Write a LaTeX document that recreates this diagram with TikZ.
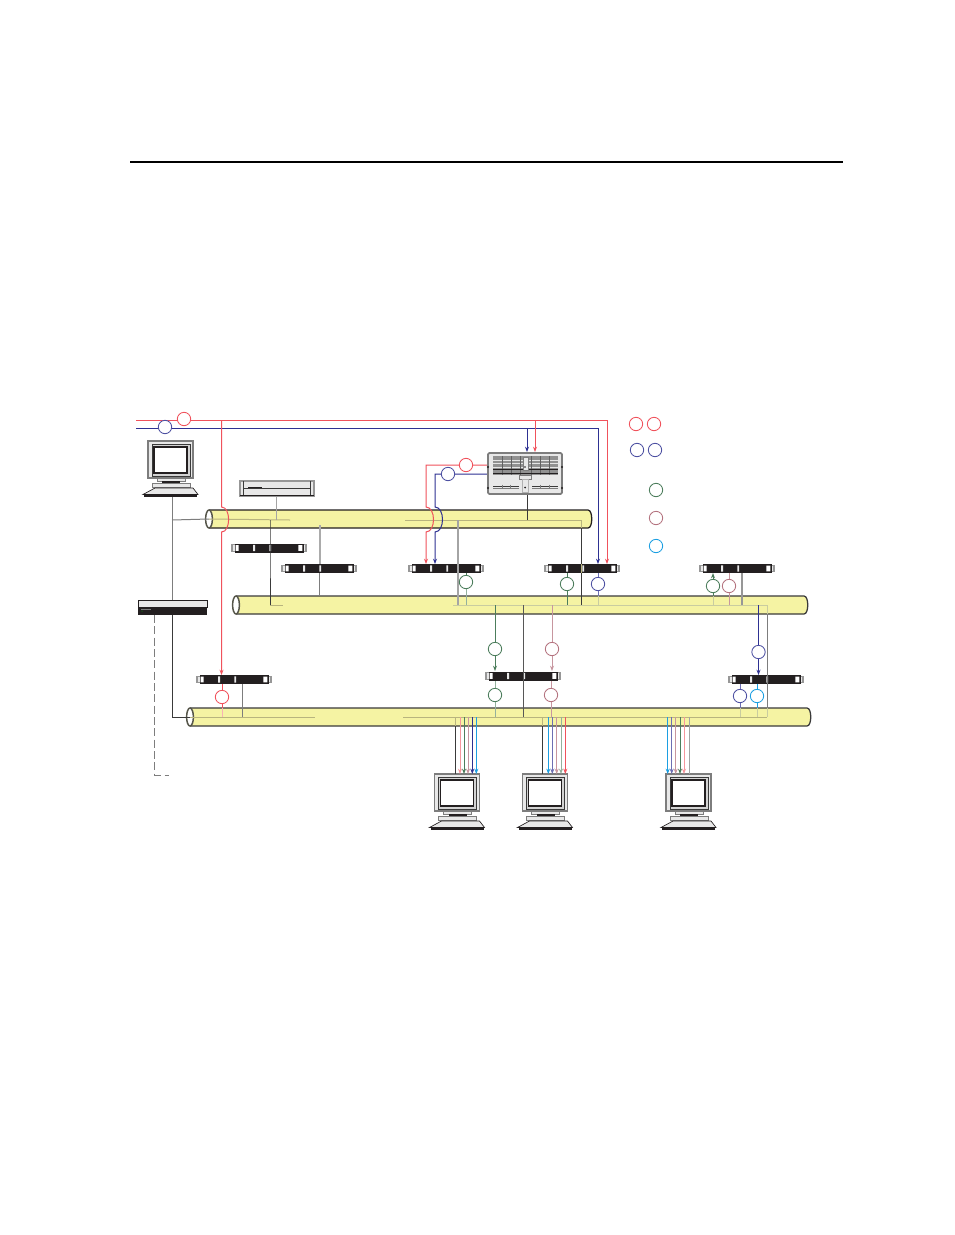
\documentclass[tikz,border=0pt]{standalone}
\usetikzlibrary{arrows.meta,calc}
\definecolor{cRed}{HTML}{F0525C}
\definecolor{cBlue}{HTML}{2E3192}
\definecolor{cGreen}{HTML}{4C7D5C}
\definecolor{cMauve}{HTML}{B4737F}
\definecolor{cCyan}{HTML}{1C9FE2}
\definecolor{cGray}{HTML}{7D7D7D}
\definecolor{cDark}{HTML}{3A3A3A}
\definecolor{cYellow}{HTML}{F5F3A3}
\definecolor{cInner}{HTML}{B8B47E}
\definecolor{cPale}{HTML}{C9CCA0}
\definecolor{cBlack}{HTML}{231F20}
\definecolor{cPanel}{HTML}{E8E8E8}
\tikzset{
  x=0.75pt,y=-0.75pt,
  wire/.style={line width=0.75pt},
  tip/.style={-{Stealth[length=4pt,width=3pt]}},
  redw/.style={wire,cRed}, bluew/.style={wire,cBlue}, greenw/.style={wire,cGreen},
  mauvew/.style={wire,cMauve}, cyanw/.style={wire,cCyan}, grayw/.style={wire,cGray},
  darkw/.style={wire,cDark}, innerw/.style={wire,cInner}, palew/.style={wire,cPale},
  softred/.style={wire,draw=cRed!60},
  softgreen/.style={wire,draw=cGreen!60},
  softmauve/.style={wire,draw=cMauve!75},
  softblue/.style={wire,draw=cBlue!70},
  softgray/.style={wire,draw=cGray!70},
  ring/.style={circle,draw,fill=white,line width=0.65pt,minimum size=10pt,inner sep=0pt},
  redc/.style={ring,draw=cRed}, bluec/.style={ring,draw=cBlue!85}, greenc/.style={ring,draw=cGreen},
  mauvec/.style={ring,draw=cMauve}, cyanc/.style={ring,draw=cCyan},
  swbody/.style={rectangle,fill=cBlack,minimum width=51.75pt,minimum height=6.75pt,inner sep=0pt,outer sep=0pt},
  anchorbox/.style={rectangle,minimum width=#1,inner sep=0pt,outer sep=0pt},
}
\newcommand{\swt}[3]{%
  \begin{scope}[shift={(#2,#3)}]
    \draw[cGray!80,fill=cPanel,line width=0.9pt] (-37,-3.2) rectangle (37,3.2);
    \node[swbody] (#1) at (0,0) {};
    \fill[white] (-33.3,-2.8) rectangle (-30.3,2.8) (29.3,-2.8) rectangle (33.3,2.8);
    \fill[cPanel] (-16,-3.2) rectangle (-14,3.2) (0.3,-3.2) rectangle (2.1,3.2);
  \end{scope}}
\newcommand{\tube}[6]{% name x1 x2 ytop ybot outline
  \path[fill=cYellow] (#2,#4) -- (#3-4,#4) .. controls (#3+1,#4) and (#3+1,#5) .. (#3-4,#5) -- (#2,#5) -- cycle;
  \draw[#6,line width=0.95pt] (#2,#4) -- (#3-4,#4) .. controls (#3+1,#4) and (#3+1,#5) .. (#3-4,#5) -- (#2,#5);
  \draw[cDark!85!cYellow,fill=white,line width=1.1pt] ($(#2,#4)!0.5!(#2,#5)$) ellipse [x radius=3.4,y radius=9];
  \coordinate (#1) at ($(#2,#4)!0.5!(#2,#5)$);}
\newcommand{\monitor}[3]{% name x y of case top-left
  \begin{scope}[shift={(#2,#3)}]
    \draw[cGray,fill=cPanel,line width=0.8pt] (0,0) rectangle (45,37);
    \draw[cDark,fill=cPanel!80!gray,line width=0.4pt] (4,3) rectangle (42,35);
    \draw[cBlack,fill=white,line width=0.9pt] (6,6) rectangle (39,32);
    \draw[cGray,fill=cPanel,line width=0.5pt] (9,37) rectangle (37,40);
    \fill[cBlack] (14,40) rectangle (32,42);
    \draw[cGray,fill=cPanel,line width=0.5pt] (4,42) rectangle (42,46);
    \draw[cBlack,fill=cPanel,line width=0.5pt] (7,47) -- (45,47) -- (50,53.5) -- (-5,53.5) -- cycle;
    \fill[cBlack] (-4,53) rectangle (49,56);
    \node[anchorbox=33.75pt,minimum height=42pt] (#1) at (22.5,28) {};
    \coordinate (#1top) at (22.5,0);
  \end{scope}}
\begin{document}
\begin{tikzpicture}
\fill[white] (0,0) rectangle (954,1235);
\useasboundingbox (0,0) rectangle (954,1235);
% header rule
\coordinate (ruleL) at (130,161.7);
\coordinate (ruleR) at (843,161.7);
\draw[black,line width=1.2pt] (ruleL) -- (ruleR);
% tubes
\tube{Ta}{209}{592}{510}{528}{cBlack}
\tube{Tb}{236}{808}{596}{614}{cDark}
\tube{Tc}{190}{811}{708}{726}{cDark}
% named points
\coordinate (redIn) at (136,420.2);
\coordinate (blueIn) at (136,428);
\coordinate (redT) at (607,420.2);
\coordinate (blueT) at (598,428);
\coordinate (redA) at (221.5,420.2);
\coordinate (redB) at (426,465);
\coordinate (blueB) at (435,474);
\coordinate (aL) at (172,520);
\coordinate (aM) at (290,520);
\coordinate (aN) at (405,520);
\coordinate (aR) at (581,520);
\coordinate (bA) at (270,520);
\coordinate (bB) at (283,605);
\coordinate (bL) at (453,605);
\coordinate (bR) at (767,605);
\coordinate (cL) at (172,717);
\coordinate (cM) at (315,717);
\coordinate (cN) at (403,717);
\coordinate (cR) at (767,717);
\coordinate (dashA) at (154.5,775);
\coordinate (dashB) at (169,775);
% devices
\swt{Sa}{269}{548}
\swt{Sb}{319}{568.5}
\swt{Sc}{446}{568.5}
\swt{Sd}{582}{568.5}
\swt{Se}{737}{568.5}
\swt{Sf}{234}{679.5}
\swt{Sg}{523}{676}
\swt{Sh}{766}{679.5}
% inner pipe lines
\draw[grayw] (aL) -- (Ta);
\draw[innerw] (Ta) -- (aM);
\draw[innerw] (aN) -- (aR);
\draw[innerw] (bA |- bB) -- (bB);
\draw[palew] (bL) -- (bR);
\draw[innerw] (Tc) -- (cM);
\draw[innerw] (cN) -- (cR);
\draw[innerw] (aR) -- (aR |- bL);
\draw[palew] (bR) -- (cR);
% grey and black links
\draw[grayw] (172,496) -- (172,600);
\draw[darkw] (172,615) -- (cL) -- (Tc);
\draw[grayw,dashed,dash pattern=on 6pt off 2.5pt] (154.5,615) -- (dashA) -- (dashB);
\draw[cGray!70,line width=.8pt] (276.5,496) -- (276.5,520);
\draw[darkw] (bA) -- (bA |- Sa.south) -- (bA |- bB);
\draw[cGray!65,line width=0.9pt] (320,525) -- (320,564);
\draw[grayw] (319,573) -- (319,596);
\draw[darkw] (527,495) -- (527,520);
\draw[cGray!70,line width=0.9pt] (458,520) -- (458,605);
\draw[cDark,line width=0.7pt] (581,528) -- (581,564);
\draw[cDark,line width=0.7pt] (581,573) -- (581,605);
\draw[cGray!80,line width=.8pt] (742,573) -- (742,605);
\draw[wire,cGray!70!black] (523.5,605) -- (523.5,717);
\draw[grayw] (242,684) -- (242,717);
\draw[grayw] (767,614) -- (767,708);
% top feeds
\draw[redw,tip] (redIn) -- (redT) -- (redT |- Sd.north);
\draw[bluew,tip] (blueIn) -- (blueT) -- (blueT |- Sd.north);
\draw[redw,tip] (535,420.2) -- (535,452);
\draw[bluew,tip] (527,428) -- (527,452);
\draw[redw,tip] (redA) -- (221.5,507) .. controls (231,507) and (231,532) .. (221.5,532) -- (221.5,675);
\draw[redw,tip] (488,465) -- (redB) -- (426,507) .. controls (436,507) and (436,532) .. (426,532) -- (426,564);
\draw[bluew,tip] (488,474) -- (blueB) -- (435,507) .. controls (445,507) and (445,532) .. (435,532) -- (435,564);
% rings and their links
\node[redc] (r1) at (184,419) {};
\node[bluec] (b1) at (165,427) {};
\node[redc] (r2) at (466,465) {};
\node[bluec] (b2) at (448,474) {};
\draw[greenw] (466,573) -- (466,580);
\draw[softgreen] (466,585) -- (466,605);
\draw[greenw] (567,573) -- (567,605);
\draw[softblue] (598,573) -- (598,596);
\draw[palew] (598,596) -- (598,605);
\draw[greenw,tip] (713,596) -- (713,573);
\draw[palew] (713,596) -- (713,605);
\draw[softmauve] (729,573) -- (729,605);
\draw[greenw,tip] (495,605) -- (495,671);
\draw[softmauve,tip] (552,605) -- (552,671);
\draw[softgreen] (495,681) -- (495,717);
\draw[softmauve] (551,681) -- (551,717);
\draw[bluew,tip] (758.5,605) -- (758.5,675);
\draw[softblue] (740,684) -- (740,708);
\draw[palew] (740,708) -- (740,717);
\draw[cyanw] (757,684) -- (757,708);
\draw[palew] (757,708) -- (757,717);
\draw[redw] (222,684) -- (222,708);
\draw[cRed!45,line width=.75pt] (222,708) -- (222,717);
\node[greenc] (g1) at (466,582) {};
\node[greenc] (g2) at (567,584) {};
\node[bluec] (b3) at (598,584) {};
\node[greenc] (g3) at (713,586) {};
\node[mauvec] (m1) at (729,586) {};
\node[greenc] (g4) at (495,649) {};
\node[mauvec] (m2) at (552,649) {};
\node[greenc] (g5) at (495,695) {};
\node[mauvec] (m3) at (551,695) {};
\node[bluec] (b4) at (758.5,652) {};
\node[bluec] (b5) at (740,696) {};
\node[cyanc] (k1) at (757,696) {};
\node[redc] (r3) at (222,697) {};
% legend
\node[redc] (lr1) at (636,424) {};
\node[redc] (lr2) at (654,424) {};
\node[bluec] (lb1) at (637,450) {};
\node[bluec] (lb2) at (655,450) {};
\node[greenc] (lg) at (656,490) {};
\node[mauvec] (lm) at (656,518) {};
\node[cyanc] (lk) at (656,546) {};
% monitors
\monitor{Ma}{148}{441}
\monitor{Mb}{434.5}{774}
\monitor{Mc}{522.5}{774}
\monitor{Md}{666}{774}
% drops to monitors
\draw[darkw] (455.5,726) -- (455.5 ,774);
\draw[innerw] (455.5,717) -- (455.5,726);
\draw[softred,tip] (460,717) -- (460,774);
\draw[greenw,tip] (464,717) -- (464,774);
\draw[softmauve,tip] (468,717) -- (468,774);
\draw[bluew,tip] (472.3,717) -- (472.3,774);
\draw[cyanw,tip] (476.3,717) -- (476.3,774);
\draw[darkw] (542.5,726) -- (542.5,774);
\draw[innerw] (542.5,717) -- (542.5,726);
\draw[cyanw,tip] (548.3,717) -- (548.3,774);
\draw[softblue,tip] (552.3,717) -- (552.3,774);
\draw[softmauve,tip] (556.7,717) -- (556.7,774);
\draw[softgreen,tip] (561,717) -- (561,774);
\draw[redw,tip] (565.3,717) -- (565.3,774);
\draw[cyanw,tip] (667.7,717) -- (667.7,774);
\draw[softblue,tip] (671.7,717) -- (671.7,774);
\draw[softmauve,tip] (675.7,717) -- (675.7,774);
\draw[greenw,tip] (680,717) -- (680,774);
\draw[softred,tip] (684,717) -- (684,774);
\draw[softgray] (689.3,717) -- (689.3,774);
% rack unit
\draw[cGray!80,fill=cPanel,line width=0.9pt] (240,481) rectangle (314,496);
\draw[cBlack,line width=0.8pt] (240,495.7) -- (314,495.7);
\draw[cDark,line width=0.5pt] (243.5,481) -- (243.5,495) (310,481) -- (310,495) (243.5,488) -- (310,488);
\draw[cBlack,line width=0.8pt] (248,487.5) -- (262,487.5);
\node[anchorbox=55pt,minimum height=11pt] (unitA) at (277,488.5) {};
% access box
\fill[cPanel] (138,600.5) rectangle (207,607);
\draw[cBlack,line width=0.4pt] (138,600.5) rectangle (207,607);
\fill[cBlack] (138,607) rectangle (207,615);
\draw[cGray,line width=0.5pt] (141,609.5) -- (151,609.5);
\fill[green!70!black] (142,611) circle (0.5);
\node[anchorbox=51pt,minimum height=11pt] (unitB) at (172.5,607.5) {};
% chassis
\draw[cGray,fill=cPanel,line width=1.3pt,rounded corners=1pt] (488,453) rectangle (562,494);
\fill[cGray!85] (493,456) rectangle (558,475);
\foreach \yy in {460,463.5,467} \draw[white!80!gray,line width=0.5pt] (493,\yy) -- (558,\yy);
\foreach \xx in {502,511,520,531,540,549} \draw[cDark!80,line width=0.5pt] (\xx,456) -- (\xx,475);
\draw[cBlack,line width=0.7pt] (493,469.5) -- (558,469.5) (493,473) -- (558,473);
\fill[cPanel] (523,457) rectangle (528,470);
\draw[cGray,line width=0.3pt] (523,457) rectangle (528,470);
\fill[cBlack] (525,467) circle (0.8);
\draw[cGray,fill=cPanel,line width=0.6pt] (519,475) rectangle (531,479);
\draw[cGray!60,fill=cPanel,line width=0.3pt] (522,479) rectangle (528,492);
\fill[cBlack] (525,487.5) circle (1);
\draw[cDark,line width=0.55pt] (493,486.5) -- (519,486.5) (532,486.5) -- (558,486.5);
\draw[cGray,line width=0.35pt] (493,488.5) -- (519,488.5) (532,488.5) -- (558,488.5);
\foreach \xx in {502,510,540,549} \draw[cGray,line width=0.4pt] (\xx,484.5) -- (\xx,489);
\fill[cBlack] (488,467) circle (1.2) (562,467) circle (1.2) (488,488) circle (1.2) (562,488) circle (1.2);
\node[anchorbox=55.5pt,minimum height=31pt] (chassis) at (525,473.5) {};
\end{tikzpicture}
\end{document}
